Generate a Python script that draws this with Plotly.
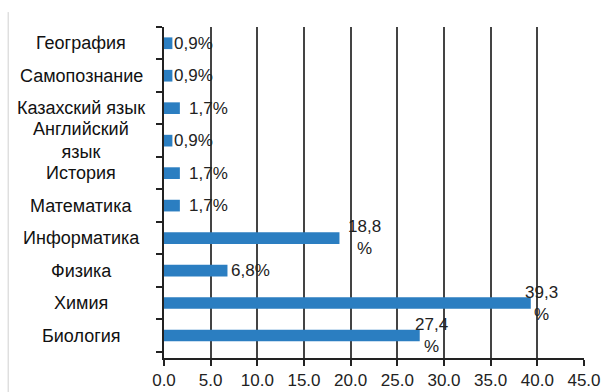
import plotly.graph_objects as go

# Subjects (bottom to top) and their shares, %
subjects = ["Биология", "Химия", "Физика", "Информатика", "Математика",
            "История", "Английский<br>язык", "Казахский язык", "Самопознание", "География"]
shares = [27.4, 39.3, 6.8, 18.8, 1.7, 1.7, 0.9, 1.7, 0.9, 0.9]
value_labels = ["27,4<br>%", "39,3<br>%", "6,8%", "18,8<br>%", "1,7%",
                "1,7%", "0,9%", "1,7%", "0,9%", "0,9%"]
x_ticks = [0, 5, 10, 15, 20, 25, 30, 35, 40, 45]
x_tick_text = ["0.0", "5.0", "10.0", "15.0", "20.0", "25.0", "30.0", "35.0", "40.0", "45.0"]

FONT = "Liberation Sans, Arial, sans-serif"
BAR = "#2B7EC1"

fig = go.Figure(go.Bar(
    y=subjects, x=shares, orientation="h",
    marker=dict(color=BAR, line=dict(width=0)),
    width=0.36, hoverinfo="skip",
))

# label placement offsets (anchor, xshift, yshift) per bar
label_style = [("center", 12, 0), ("center", 11, 0), ("left", 2, 0), ("center", 25, 1),
               ("left", 7, 0), ("left", 7, 0), ("left", 0, 0), ("left", 7, 0),
               ("left", 0, 0), ("left", 0, 0)]

annotations = []
for subj, val, txt, (anc, dx, dy) in zip(subjects, shares, value_labels, label_style):
    annotations.append(dict(
        x=val, y=subj, xref="x", yref="y", text=txt, showarrow=False,
        xanchor=anc, yanchor="middle", xshift=dx, yshift=dy, align="center",
        font=dict(family=FONT, size=17, color="#222222"),
    ))
    # category names sit in a centred column left of the axis
    annotations.append(dict(
        x=-0.1976, y=subj, xref="paper", yref="y", text=subj, showarrow=False,
        xanchor="center", yanchor="middle", align="center",
        font=dict(family=FONT, size=18, color="#111111"),
    ))

fig.update_layout(
    width=602, height=392,
    margin=dict(l=164, r=18, t=27, b=34, autoexpand=False),
    paper_bgcolor="white", plot_bgcolor="white",
    showlegend=False, bargap=0.64,
    annotations=annotations,
    xaxis=dict(
        range=[0, 45], tickmode="array", tickvals=x_ticks, ticktext=x_tick_text,
        showgrid=True, gridcolor="#444444", gridwidth=1.5,
        showline=True, linecolor="#222222", linewidth=1.5,
        ticks="outside", ticklen=6, tickcolor="#222222", tickwidth=1.5,
        tickfont=dict(family=FONT, size=17, color="#222222"),
        zeroline=False, fixedrange=True, automargin=False,
    ),
    yaxis=dict(
        type="category", categoryorder="array", categoryarray=subjects,
        showticklabels=False, tickson="boundaries",
        ticks="outside", ticklen=6, tickcolor="#222222", tickwidth=1.5,
        showline=True, linecolor="#222222", linewidth=1.5,
        showgrid=False, zeroline=False, fixedrange=True, automargin=False,
    ),
    shapes=[dict(type="line", xref="paper", yref="paper",
                 x0=-0.371, x1=-0.371, y0=1.045, y1=-0.11,
                 line=dict(color="#d0d0d0", width=1))],
)

fig.write_html("out.html")
